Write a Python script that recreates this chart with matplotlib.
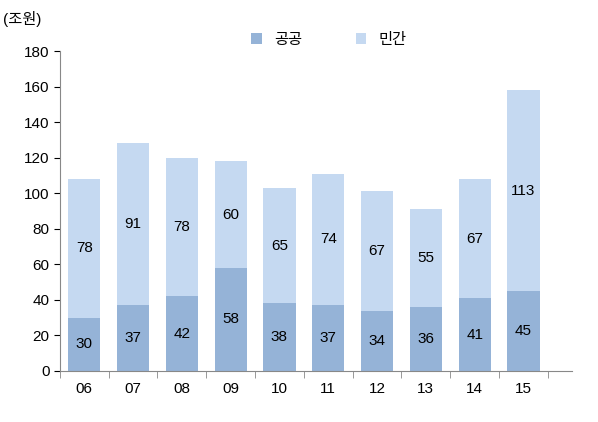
import matplotlib
matplotlib.use("Agg")
import matplotlib.pyplot as plt
import numpy as np

plt.rcParams['font.family'] = ['Liberation Sans', 'Noto Sans CJK KR', 'DejaVu Sans']

years = ['06', '07', '08', '09', '10', '11', '12', '13', '14', '15']
public = [30, 37, 42, 58, 38, 37, 34, 36, 41, 45]
private = [78, 91, 78, 60, 65, 74, 67, 55, 67, 113]

c_pub = '#95b3d7'
c_pri = '#c5d9f1'

fig = plt.figure(figsize=(5.98, 4.22), dpi=100)
ax = fig.add_axes([0.1, 0.121, 0.857, 0.758])
x = np.arange(len(years))
w = 0.66
ax.bar(x, public, w, color=c_pub, label='공공')
ax.bar(x, private, w, bottom=public, color=c_pri, label='민간')
for i in range(len(years)):
    ax.text(x[i], public[i] / 2, str(public[i]), ha='center', va='center', fontsize=11)
    ax.text(x[i], public[i] + private[i] / 2, str(private[i]), ha='center', va='center', fontsize=11)

ax.set_xlim(-0.5, len(years))
ax.set_ylim(0, 180)
ax.set_yticks(range(0, 181, 20))
ax.set_xticks(x)
ax.set_xticklabels(years)
ax.tick_params(labelsize=11, direction='out', length=4)
ax.tick_params(axis='x', length=0, pad=8)
for s in ['top', 'right']:
    ax.spines[s].set_visible(False)
ax.spines['left'].set_color('#888888')
ax.spines['bottom'].set_color('#888888')
ax.set_xticks(np.arange(-0.5, len(years), 1), minor=True)
ax.tick_params(axis='x', which='minor', length=5, color='#888888')

fig.text(0.005, 0.955, '(조원)', fontsize=11, ha='left', va='center')
fig.legend(loc='center', bbox_to_anchor=(0.55, 0.905), ncol=2, frameon=False,
           fontsize=11, handlelength=0.7, handleheight=0.7, columnspacing=3.5)

fig.savefig('out.png', dpi=100)
